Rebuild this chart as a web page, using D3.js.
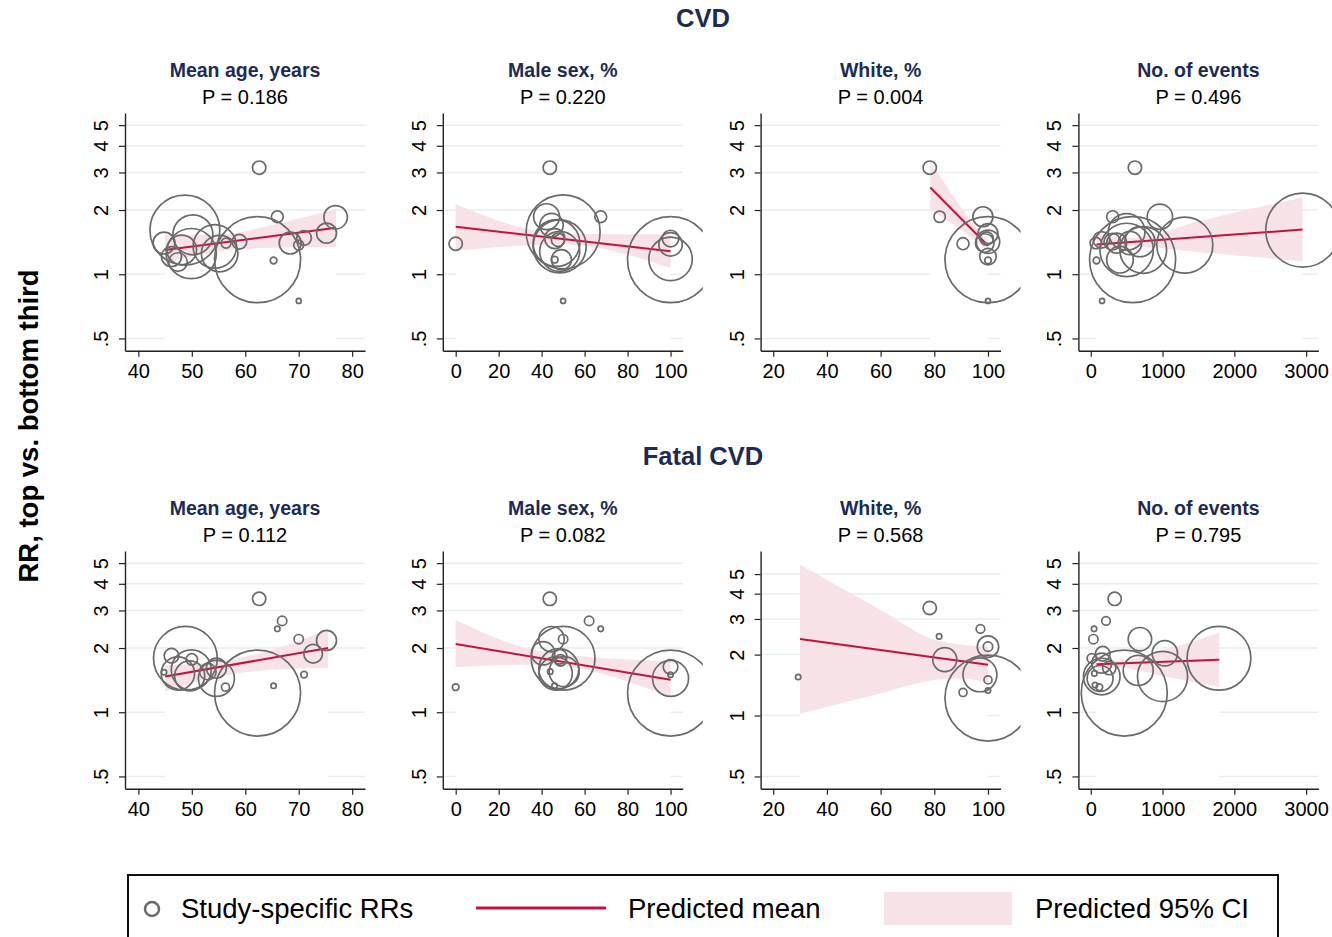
<!DOCTYPE html>
<html>
<head>
<meta charset="utf-8">
<script src="https://cdn.jsdelivr.net/npm/d3@7"></script>
<style>
  body { margin: 0; background: #fff; }
  svg { display: block; font-family: "Liberation Sans", Arial, sans-serif; }
</style>
</head>
<body>
<div id="viz"></div>
<script>
// text
const outcomes = ["CVD", "Fatal CVD"]
const covariates = ["Mean age, years", "Male sex, %", "White, %", "No. of events"]
const pValues = [["0.186", "0.220", "0.004", "0.496"], ["0.112", "0.082", "0.568", "0.795"]]
const yTitle = "RR, top vs. bottom third"
const legendLabels = ["Study-specific RRs", "Predicted mean", "Predicted 95% CI"]

// axes
const yTicks = [0.5, 1, 2, 3, 4, 5]
const yTickLabels = [".5", "1", "2", "3", "4", "5"]
const xTicks = [[40, 50, 60, 70, 80], [0, 20, 40, 60, 80, 100], [20, 40, 60, 80, 100], [0, 1000, 2000, 3000]]
const xDomains = [[37.5, 82.4], [-6, 105.7], [15.3, 104.7], [-172, 3171]]

// studies: [x, RR, weight]
const cvdAge = [[48.7,1.61,66],[62.3,1.17,100],[62.6,3.16,2.4],[66.0,1.86,1.9],[76.9,1.85,7.4],[75.2,1.56,5.4],
  [71.0,1.48,2.9],[68.4,1.40,6.5],[70,1.37,1.35],[65.3,1.16,0.6],[70,0.75,0.34],[44.8,1.40,6.5],[46.2,1.21,5.4],
  [47.4,1.14,4.7],[48.1,1.30,12],[50.2,1.53,21.6],[49.9,1.25,34],[54.3,1.35,25.5],[55.2,1.25,18],[56.4,1.40,1.35],[58.9,1.42,2.9]]
const cvdMale = [[0,1.39,2.4],[43.8,3.16,2.4],[42.3,1.86,9.1],[50,1.58,74],[67.5,1.86,1.9],[50,0.75,0.34],
  [100,1.17,100],[100,1.47,3.7],[100,1.38,7.4],[100,1.18,25.5],[44.6,1.70,7.4],[46.1,1.47,5.4],[47.6,1.45,2.4],
  [46.1,1.17,0.6],[49.2,1.17,5.4],[48.4,1.35,38],[46.9,1.40,29.5],[48.4,1.28,21.6]]
const cvdWhite = [[78.3,3.16,2.4],[82,1.86,1.76],[90.7,1.39,1.95],[98.1,1.86,5.4],[100,1.17,100],[100,1.55,5.4],
  [100,1.42,7.4],[98.8,1.40,4.7],[100,1.21,3.7],[100,1.16,0.59],[100,0.75,0.34],[99.5,1.47,2.4]]
const cvdEvents = [[615,3.16,2.4],[305,1.86,1.95],[963,1.86,8.7],[1310,1.37,42.4],[2953,1.61,74],[583,1.17,100],
  [70,1.40,1.76],[150,1.45,3.7],[80,1.16,0.59],[158,0.75,0.34],[500,1.58,18.1],[500,1.30,38.5],[407,1.17,9.6],
  [731,1.30,29.5],[546,1.40,7.4],[361,1.40,5.4],[300,1.42,3.7],[685,1.42,12.2]]
const fatalAge = [[62.6,3.40,2.4],[66.9,2.68,1.19],[66.0,2.46,0.39],[70.0,2.20,1.19],[75.2,2.17,5.4],[72.7,1.88,4.7],
  [71.0,1.50,0.59],[65.3,1.33,0.39],[62.3,1.23,100],[48.8,1.79,55],[46.2,1.84,2.9],[44.8,1.54,0.39],[50,1.77,1.76],
  [49.9,1.58,21.6],[49.6,1.48,12.2],[47.4,1.52,15],[54.6,1.61,5.4],[54.6,1.44,17.5],[56.3,1.31,0.87],[53,1.55,3.7]]
const fatalMale = [[0,1.31,0.59],[43.8,3.40,2.4],[62.1,2.68,1.19],[67.5,2.46,0.39],[50,2.20,1.19],[44.6,2.20,8.7],
  [50,1.79,55],[40.7,1.89,7.4],[100,1.63,2.9],[100,1.50,0.39],[100,1.44,17.5],[100,1.23,100],[44,1.55,0.39],
  [46,1.33,0.39],[48.4,1.82,2.9],[48,1.60,21.6],[46.5,1.52,15],[50.5,1.55,12.2],[48.8,1.75,1.76]]
const fatalWhite = [[29.3,1.55,0.39],[78.3,3.40,2.4],[81.8,2.46,0.39],[97.2,2.68,1.0],[100,2.19,6.2],[100,2.19,1.19],
  [83.9,1.89,7.8],[97,1.59,15.6],[100,1.50,0.87],[90.7,1.30,0.87],[100,1.33,0.39],[100,1.22,100]]
const fatalEvents = [[333,3.40,2.4],[213,2.68,1.0],[46,2.46,0.39],[37,2.20,1.19],[685,2.20,7.4],[167,1.88,2.9],
  [14,1.79,1.19],[1032,1.89,8.7],[1786,1.79,55],[467,1.23,100],[1000,1.47,34],[661,1.57,12.2],[153,1.47,18.1],
  [258,1.61,2.4],[50,1.52,0.39],[60,1.34,0.39],[120,1.31,0.59],[130,1.44,9.1],[153,1.70,5.4]]

// predicted mean: [x, RR]
const cvdAgeFit = [[45,1.30],[77,1.65]]
const cvdMaleFit = [[0,1.67],[100,1.28]]
const cvdWhiteFit = [[78.5,2.55],[100,1.36]]
const cvdEventsFit = [[80,1.38],[2950,1.62]]
const fatalAgeFit = [[45,1.47],[75.5,2.0]]
const fatalMaleFit = [[0,2.09],[100,1.42]]
const fatalWhiteFit = [[30,2.39],[100,1.78]]
const fatalEventsFit = [[80,1.68],[1790,1.76]]

// predicted 95% CI: [x, lower, upper]
const cvdAgeCI = [[45,1.13,1.53],[50,1.21,1.53],[57,1.30,1.55],[65,1.33,1.70],[77,1.34,2.02]]
const cvdMaleCI = [[0,1.29,2.13],[50,1.38,1.55],[100,1.07,1.54]]
const cvdWhiteCI = [[78.5,2.0,3.36],[85,1.78,2.54],[92,1.55,1.90],[100,1.28,1.42]]
const cvdEventsCI = [[80,1.30,1.55],[600,1.35,1.48],[1500,1.27,1.77],[2950,1.15,2.29]]
const fatalAgeCI = [[45,1.25,1.67],[50,1.37,1.68],[57,1.50,1.76],[65,1.58,1.96],[75.5,1.61,2.44]]
const fatalMaleCI = [[0,1.63,2.71],[40,1.67,1.93],[100,1.18,1.73]]
const fatalWhiteCI = [[30,1.02,5.56],[60,1.29,3.32],[80,1.50,2.37],[90,1.53,2.24],[100,1.45,2.19]]
const fatalEventsCI = [[80,1.55,1.79],[400,1.62,1.75],[1000,1.48,1.95],[1790,1.31,2.36]]

const rows = [
  { studies: [cvdAge, cvdMale, cvdWhite, cvdEvents],
    fits: [cvdAgeFit, cvdMaleFit, cvdWhiteFit, cvdEventsFit],
    cis: [cvdAgeCI, cvdMaleCI, cvdWhiteCI, cvdEventsCI] },
  { studies: [fatalAge, fatalMale, fatalWhite, fatalEvents],
    fits: [fatalAgeFit, fatalMaleFit, fatalWhiteFit, fatalEventsFit],
    cis: [fatalAgeCI, fatalMaleCI, fatalWhiteCI, fatalEventsCI] }
]

const width = 1332, height = 937
const navy = "#1d2b54", red = "#c8103c", pink = "#f7e2e7", grey = "#6a6a6a", gridCol = "#e6eef1"

const svg = d3.select("#viz").append("svg")
  .attr("width", width)
  .attr("height", height)

const plotW = 240
const rowTop = [113, 551], rowBottom = [350.7, 788.7]
const rScale = d3.scaleSqrt().domain([0, 100]).range([0, 43])

// y axis title
svg.append("text")
  .attr("transform", "translate(38,426) rotate(-90)")
  .attr("text-anchor", "middle")
  .style("font-size", "27.5px")
  .style("font-weight", "bold")
  .text(yTitle)

rows.forEach((row, ri) => {
  svg.append("text")
    .attr("x", 703).attr("y", ri === 0 ? 27 : 465)
    .attr("text-anchor", "middle")
    .attr("fill", navy)
    .style("font-size", "25.5px")
    .style("font-weight", "bold")
    .text(outcomes[ri])

  covariates.forEach((cov, ci) => {
    const x0 = 125 + ci * 317.8
    const top = rowTop[ri], bottom = rowBottom[ri]
    const yDomain = (ri === 1 && ci === 2) ? [0.435, 6.5] : [0.438, 5.7]

    const x = d3.scaleLinear().domain(xDomains[ci]).range([x0, x0 + plotW])
    const y = d3.scaleLog().domain(yDomain).range([bottom, top])

    const g = svg.append("g")

    // titles
    g.append("text")
      .attr("x", x0 + plotW / 2).attr("y", top - 36)
      .attr("text-anchor", "middle")
      .attr("fill", navy)
      .style("font-size", "19.5px")
      .style("font-weight", "bold")
      .text(cov)
    g.append("text")
      .attr("x", x0 + plotW / 2).attr("y", top - 9)
      .attr("text-anchor", "middle")
      .style("font-size", "20px")
      .text(`P = ${pValues[ri][ci]}`)

    // gridlines
    g.selectAll(".grid").data(yTicks).join("line")
      .attr("x1", x0).attr("x2", x0 + plotW)
      .attr("y1", d => y(d)).attr("y2", d => y(d))
      .attr("stroke", gridCol)
      .attr("stroke-width", 1.5)

    const ci95 = row.cis[ci]
    // white area below the lower bound (hides gridlines like the original)
    g.append("path")
      .datum(ci95)
      .attr("d", d3.area().x(d => x(d[0])).y0(bottom - 1).y1(d => y(d[1])))
      .attr("fill", "#fff")
    g.append("path")
      .datum(ci95)
      .attr("d", d3.area().x(d => x(d[0])).y0(d => y(d[1])).y1(d => y(d[2])).curve(d3.curveMonotoneX))
      .attr("fill", pink)

    g.append("path")
      .datum(row.fits[ci])
      .attr("d", d3.line().x(d => x(d[0])).y(d => y(d[1])))
      .attr("fill", "none")
      .attr("stroke", red)
      .attr("stroke-width", 2)

    // circles, clipped a little past the plot region
    const clipId = `clip${ri}${ci}`
    svg.append("clipPath").attr("id", clipId)
      .append("rect")
      .attr("x", x0 - 30).attr("y", top - 40)
      .attr("width", plotW + 50).attr("height", bottom - top + 80)
    g.append("g").attr("clip-path", `url(#${clipId})`)
      .selectAll("circle").data(row.studies[ci]).join("circle")
      .attr("cx", d => x(d[0]))
      .attr("cy", d => y(d[1]))
      .attr("r", d => rScale(d[2]))
      .attr("fill", "none")
      .attr("stroke", grey)
      .attr("stroke-width", 1.7)

    // axes
    const yAxis = g.append("g").attr("transform", `translate(${x0},0)`)
      .call(d3.axisLeft(y).tickValues(yTicks).tickFormat((d, i) => yTickLabels[i]).tickSize(6).tickSizeOuter(0))
    yAxis.select(".domain").attr("stroke", "#222").attr("stroke-width", 1.4)
    yAxis.selectAll(".tick line").attr("stroke", "#222").attr("stroke-width", 1.2)
    yAxis.selectAll(".tick text")
      .attr("x", null).attr("dy", null)
      .attr("transform", "translate(-17,0) rotate(-90)")
      .attr("text-anchor", "middle")
      .attr("fill", "#000")
      .style("font-size", "20px")
      .style("font-family", "Liberation Sans, Arial, sans-serif")

    const xAxis = g.append("g").attr("transform", `translate(0,${bottom})`)
      .call(d3.axisBottom(x).tickValues(xTicks[ci]).tickFormat(d3.format("d")).tickSize(6).tickSizeOuter(0))
    xAxis.select(".domain").attr("stroke", "#222").attr("stroke-width", 1.4)
    xAxis.selectAll(".tick line").attr("stroke", "#222").attr("stroke-width", 1.2)
    xAxis.selectAll(".tick text")
      .attr("y", 27).attr("dy", null)
      .attr("fill", "#000")
      .style("font-size", "20px")
      .style("font-family", "Liberation Sans, Arial, sans-serif")
  })
})

// legend
const legend = svg.append("g")
legend.append("rect")
  .attr("x", 128).attr("y", 875)
  .attr("width", 1150).attr("height", 90)
  .attr("fill", "none")
  .attr("stroke", "#111")
  .attr("stroke-width", 2)
legend.append("circle")
  .attr("cx", 152).attr("cy", 909).attr("r", 7)
  .attr("fill", "none").attr("stroke", grey).attr("stroke-width", 2.5)
legend.append("line")
  .attr("x1", 476).attr("x2", 606).attr("y1", 908).attr("y2", 908)
  .attr("stroke", red).attr("stroke-width", 3)
legend.append("rect")
  .attr("x", 884).attr("y", 892).attr("width", 128).attr("height", 33)
  .attr("fill", pink)
legend.selectAll(".lab").data(legendLabels).join("text")
  .attr("x", (d, i) => [181, 628, 1035][i])
  .attr("y", 918)
  .style("font-size", "27.5px")
  .text(d => d)
</script>
</body>
</html>
